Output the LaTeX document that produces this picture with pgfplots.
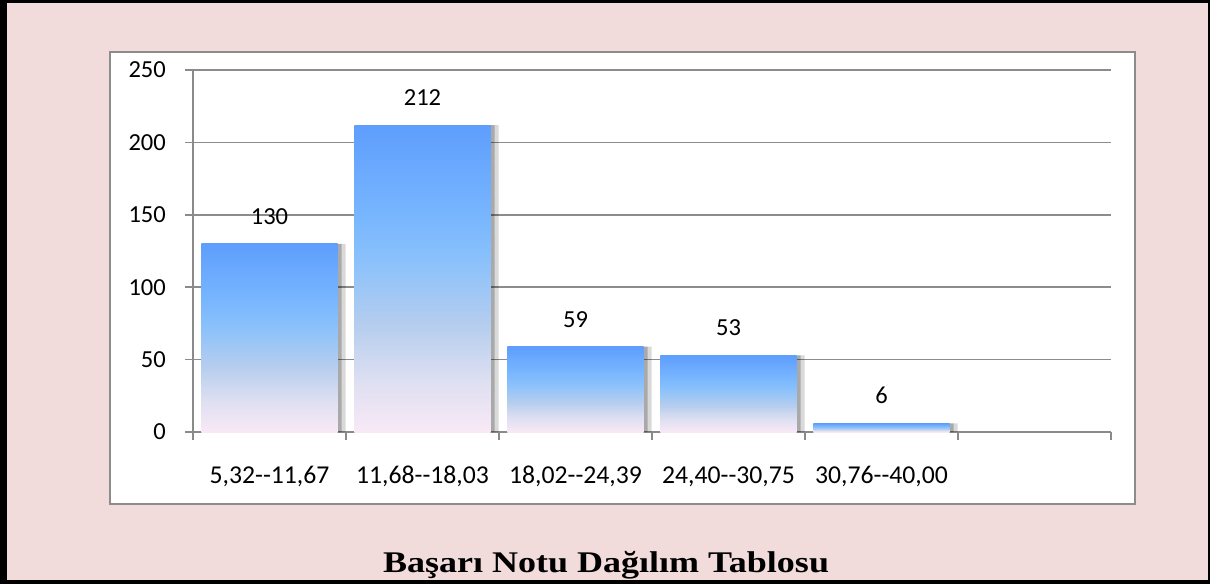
\documentclass[border=0pt]{standalone}
\usepackage{fontspec}
\setmainfont{Carlito}
\newfontfamily\titlefont{Liberation Serif}
\usepackage{graphicx}
\usepackage{pgfplots}
\pgfplotsset{compat=1.18}
\definecolor{bgpink}{HTML}{F2DCDB}
\definecolor{boxgray}{HTML}{8C8C8C}
\definecolor{axgray}{HTML}{8A8A8A}
\definecolor{gridgray}{HTML}{8C8C8C}
\definecolor{cA}{HTML}{F9E9F6}
\definecolor{cB}{HTML}{DDDFF1}
\definecolor{cC}{HTML}{B5CDEE}
\definecolor{cD}{HTML}{8CC2FB}
\definecolor{cE}{HTML}{78B6FE}
\definecolor{cF}{HTML}{5E9EFD}
\pgfdeclareverticalshading{barshade}{100bp}{color(0bp)=(cA); color(25bp)=(cA); color(33.5bp)=(cB); color(42.5bp)=(cC); color(52.5bp)=(cD); color(60bp)=(cE); color(75bp)=(cF); color(100bp)=(cF)}
\newcommand\dd{\mbox{-}\mbox{-}}
\pgfplotsset{
  shadowA/.style={ybar, bar width=0.889, bar shift=8pt, draw=none, fill=black, opacity=0.15, forget plot},
  shadowB/.style={ybar, bar width=0.889, bar shift=4pt, draw=none, fill=black, opacity=0.22, forget plot},
  mainbar/.style={ybar, bar width=0.889, bar shift=0pt, draw=none, shading=barshade,
    nodes near coords,
    every node near coord/.append style={anchor=south, inner sep=0pt, yshift=19pt, font=\fontsize{24.5}{28}\selectfont, text=black, opacity=1}},
}
\begin{document}
\begin{tikzpicture}[x=1pt,y=1pt]
\useasboundingbox (0,0) rectangle (1210,584);
\fill[bgpink] (0,0) rectangle (1210,584);
\fill[black] (0,0) rectangle (7,584);
\fill[black] (0,581) rectangle (1210,584);
\fill[black] (1208,0) rectangle (1210,584);
\fill[black] (0,0) rectangle (1210,4);
\filldraw[fill=white, draw=boxgray, line width=2pt] (110,80) rectangle (1135,532);
\begin{axis}[
  at={(193pt,152pt)}, anchor=south west,
  scale only axis, width=918pt, height=362pt,
  xmin=-0.5, xmax=5.5, ymin=0, ymax=250,
  axis x line=bottom, axis y line=left,
  axis line style={-, draw=axgray, line width=2pt},
  ytick={0,50,100,150,200,250},
  ymajorgrids, grid style={draw=gridgray, line width=1.5pt},
  tick align=outside, major tick length=8pt,
  tick style={draw=axgray, line width=1.5pt},
  xtick={-0.5,0.5,1.5,2.5,3.5,4.5,5.5},
  xticklabels={,,,,,,},
  extra x ticks={0,1,2,3,4},
  extra x tick labels={{5,32\dd11,67},{11,68\dd18,03},{18,02\dd24,39},{24,40\dd30,75},{30,76\dd40,00}},
  extra x tick style={major tick length=0pt, tick style={draw=none},
    xticklabel style={anchor=base, inner sep=0pt, yshift=-51pt, font=\fontsize{25.7}{30}\selectfont}},
  /pgf/number format/assume math mode=true,
  yticklabel style={anchor=east, inner sep=0pt, xshift=-19pt, font=\fontsize{24.5}{28}\selectfont},
]
\addplot[shadowA] coordinates {(0,130) (1,212) (2,59) (3,53) (4,6)};
\addplot[shadowB] coordinates {(0,130) (1,212) (2,59) (3,53) (4,6)};
\addplot[mainbar] coordinates {(0,130)};
\addplot[mainbar] coordinates {(1,212)};
\addplot[mainbar] coordinates {(2,59)};
\addplot[mainbar] coordinates {(3,53)};
\addplot[mainbar] coordinates {(4,6)};
\end{axis}
\node at (606,19) {\resizebox{446pt}{\height}{\titlefont\bfseries\fontsize{30}{34}\selectfont Başarı Notu Dağılım Tablosu}};
\end{tikzpicture}
\end{document}
